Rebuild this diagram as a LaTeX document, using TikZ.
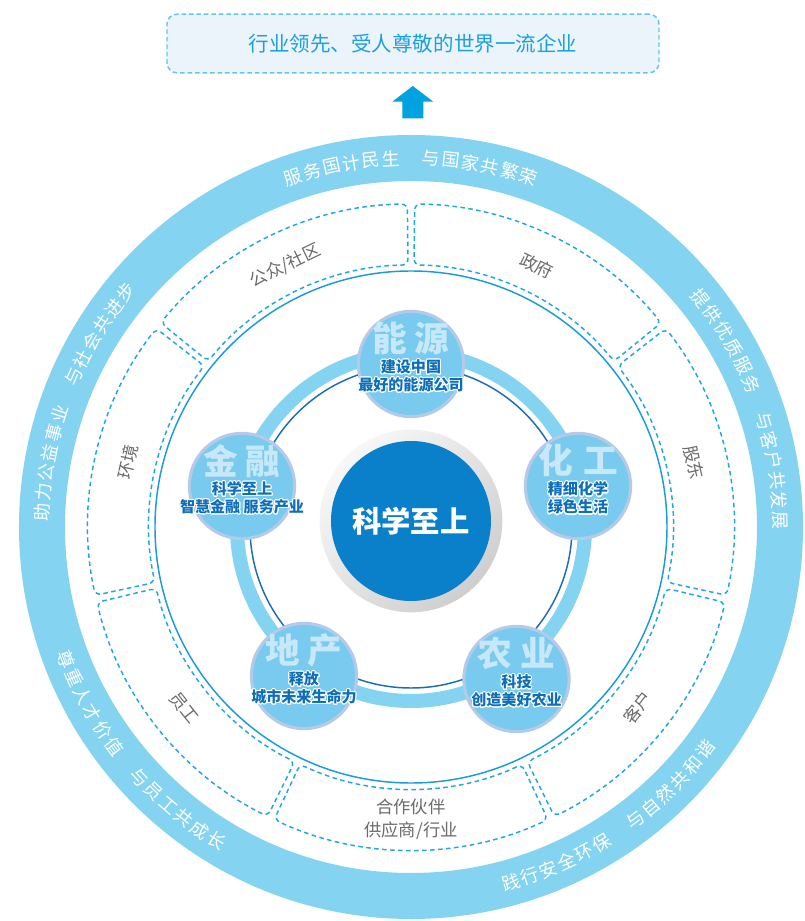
\documentclass[tikz,border=0pt]{standalone}
\usepackage{fontspec}
\setmainfont{Noto Sans CJK SC}
\usepackage{contour}
\contourlength{0.8pt}
\usetikzlibrary{positioning}

\definecolor{ringblue}{HTML}{84D3F1}
\definecolor{dashblue}{HTML}{22A6E1}
\definecolor{lineblue}{HTML}{1B9BD8}
\definecolor{deepline}{HTML}{1E6DB2}
\definecolor{ballfill}{HTML}{78CAEF}
\definecolor{ballrim}{HTML}{B4CAE8}
\definecolor{ballword}{HTML}{C6E8F8}
\definecolor{balltext}{HTML}{0E6EB8}
\definecolor{coreblue}{HTML}{0A80CB}
\definecolor{goalfill}{HTML}{EBF3FB}
\definecolor{goalline}{HTML}{64C4EC}
\definecolor{goaltext}{HTML}{1CA0DE}
\definecolor{uparrow}{HTML}{00A2E0}
\definecolor{partytext}{HTML}{6B6B6B}

\tikzset{
  bandchar/.style = {text = white, font = \fontsize{13.5}{13.5}\selectfont, inner sep = 0pt},
  party/.style = {text = partytext, font = \fontsize{13}{17}\selectfont, align = center, inner sep = 0pt},
  partybox/.style = {draw = dashblue, line width = 1.1pt, dash pattern = on 3.4pt off 2.6pt, rounded corners = 4.5pt},
  ball/.style = {circle, fill = ballfill, draw = ballrim, line width = 2.3pt, minimum size = 79pt, inner sep = 0pt},
  ballword/.style = {text = ballword, font = \fontsize{26}{26}\selectfont\bfseries, inner sep = 0pt},
  balltext/.style = {text = balltext, font = \fontsize{11.3}{13.5}\selectfont\bfseries, align = center, inner sep = 0pt}
}

\newcommand\cwtext[3]{%
  \foreach \ch [count=\i from 0] in {#3}
    \node[bandchar, rotate = {#2-\i*3.1-90}] (#1\i) at ({#2-\i*3.1}:369) {\ch};}
\newcommand\ccwtext[3]{%
  \foreach \ch [count=\i from 0] in {#3}
    \node[bandchar, rotate = {#2+\i*3.1+90}] (#1\i) at ({#2+\i*3.1}:369) {\ch};}

\begin{document}
\begin{tikzpicture}[x = 0.75pt, y = 0.75pt]
\useasboundingbox (-411,-394) rectangle (393,527);
\fill[white] (-411,-394) rectangle (393,527);

\node[draw = goalline, fill = goalfill, line width = 1.1pt, dash pattern = on 3.4pt off 2.2pt, rounded corners = 7.5pt, minimum width = 369pt, minimum height = 44pt, text = goaltext, font = \fontsize{15.4}{15.4}\selectfont] (0) at (2,483.5) {行业领先、受人尊敬的世界一流企业};
\fill[uparrow] (-8.7,408.7) -- (12.3,408.7) -- (12.3,425.3) -- (22.3,425.3) -- (1.8,441) -- (-18.7,425.3) -- (-8.7,425.3) -- cycle;

\draw[ringblue, line width = 34.5pt] (0,0) circle[radius = 369];
\cwtext{t}{108.6}{服,务,国,计,民,生,{},与,国,家,共,繁,荣}
\cwtext{r}{38.3}{提,供,优,质,服,务,{},与,客,户,共,发,展}
\ccwtext{d}{-74.3}{践,行,安,全,环,保,{},与,自,然,共,和,谐}
\ccwtext{w}{201}{尊,重,人,才,价,值,{},与,员,工,共,成,长}
\cwtext{l}{177.7}{助,力,公,益,事,业,{},与,社,会,共,进,步}

\foreach \k in {0,...,6} {
  \pgfmathsetmacro\s{90-\k*360/7-0.65}
  \pgfmathsetmacro\e{90-(\k+1)*360/7+0.65}
  \draw[partybox] (\s:262) arc[start angle = \s, end angle = \e, radius = 262] -- (\e:323) arc[start angle = \e, end angle = \s, radius = 323] -- cycle;
}
\node[party, rotate = -25.71] (21) at (64.29:290) {政府};
\node[party, rotate = -77.14] (22) at (12.86:290) {股东};
\node[party, rotate = 51.43] (23) at (-38.57:290) {客户};
\node[party] (24) at (-90:292) {合作伙伴\\供应商/行业};
\node[party, rotate = -51.43] (25) at (-141.43:290) {员工};
\node[party, rotate = 77.14] (26) at (167.14:290) {环境};
\node[party, rotate = 25.71] (27) at (115.71:290) {公众/社区};

\draw[lineblue, line width = 1.1pt] (0,0) circle[radius = 256];
\draw[ringblue, line width = 10.5pt] (0,0) circle[radius = 174];
\draw[deepline, line width = 1.1pt] (0,0) circle[radius = 161];

\node[circle, minimum size = 137pt, top color = gray!6, bottom color = gray!38, shading angle = 45] (1) at (0,6) {};
\node[circle, fill = coreblue, minimum size = 120pt, text = white, font = \fontsize{22}{22}\selectfont\bfseries] (2) at (0,6) {科学至上};

\node[ball] (11) at (0,163) {};
\node[ballword] (11w) at ([yshift = 19pt]11.center) {能\hspace{6pt}源};
\node[balltext] (11t) at ([yshift = -9.5pt]11.center) {\contour{white}{建设中国}\\\contour{white}{最好的能源公司}};
\node[ball] (12) at (-169,41) {};
\node[ballword] (12w) at ([yshift = 19pt]12.center) {金\hspace{6pt}融};
\node[balltext] (12t) at ([yshift = -9.5pt]12.center) {\contour{white}{科学至上}\\\contour{white}{智慧金融\ 服务产业}};
\node[ball] (13) at (167,41) {};
\node[ballword] (13w) at ([yshift = 19pt]13.center) {化\hspace{8pt}工};
\node[balltext] (13t) at ([yshift = -9.5pt]13.center) {\contour{white}{精细化学}\\\contour{white}{绿色生活}};
\node[ball] (14) at (-107,-149) {};
\node[ballword] (14w) at ([yshift = 19pt]14.center) {地\hspace{6pt}产};
\node[balltext] (14t) at ([yshift = -9.5pt]14.center) {\contour{white}{释放}\\\contour{white}{城市未来生命力}};
\node[ball] (15) at (105.5,-152) {};
\node[ballword] (15w) at ([yshift = 19pt]15.center) {农\hspace{6pt}业};
\node[balltext] (15t) at ([yshift = -9.5pt]15.center) {\contour{white}{科技}\\\contour{white}{创造美好农业}};
\end{tikzpicture}
\end{document}
